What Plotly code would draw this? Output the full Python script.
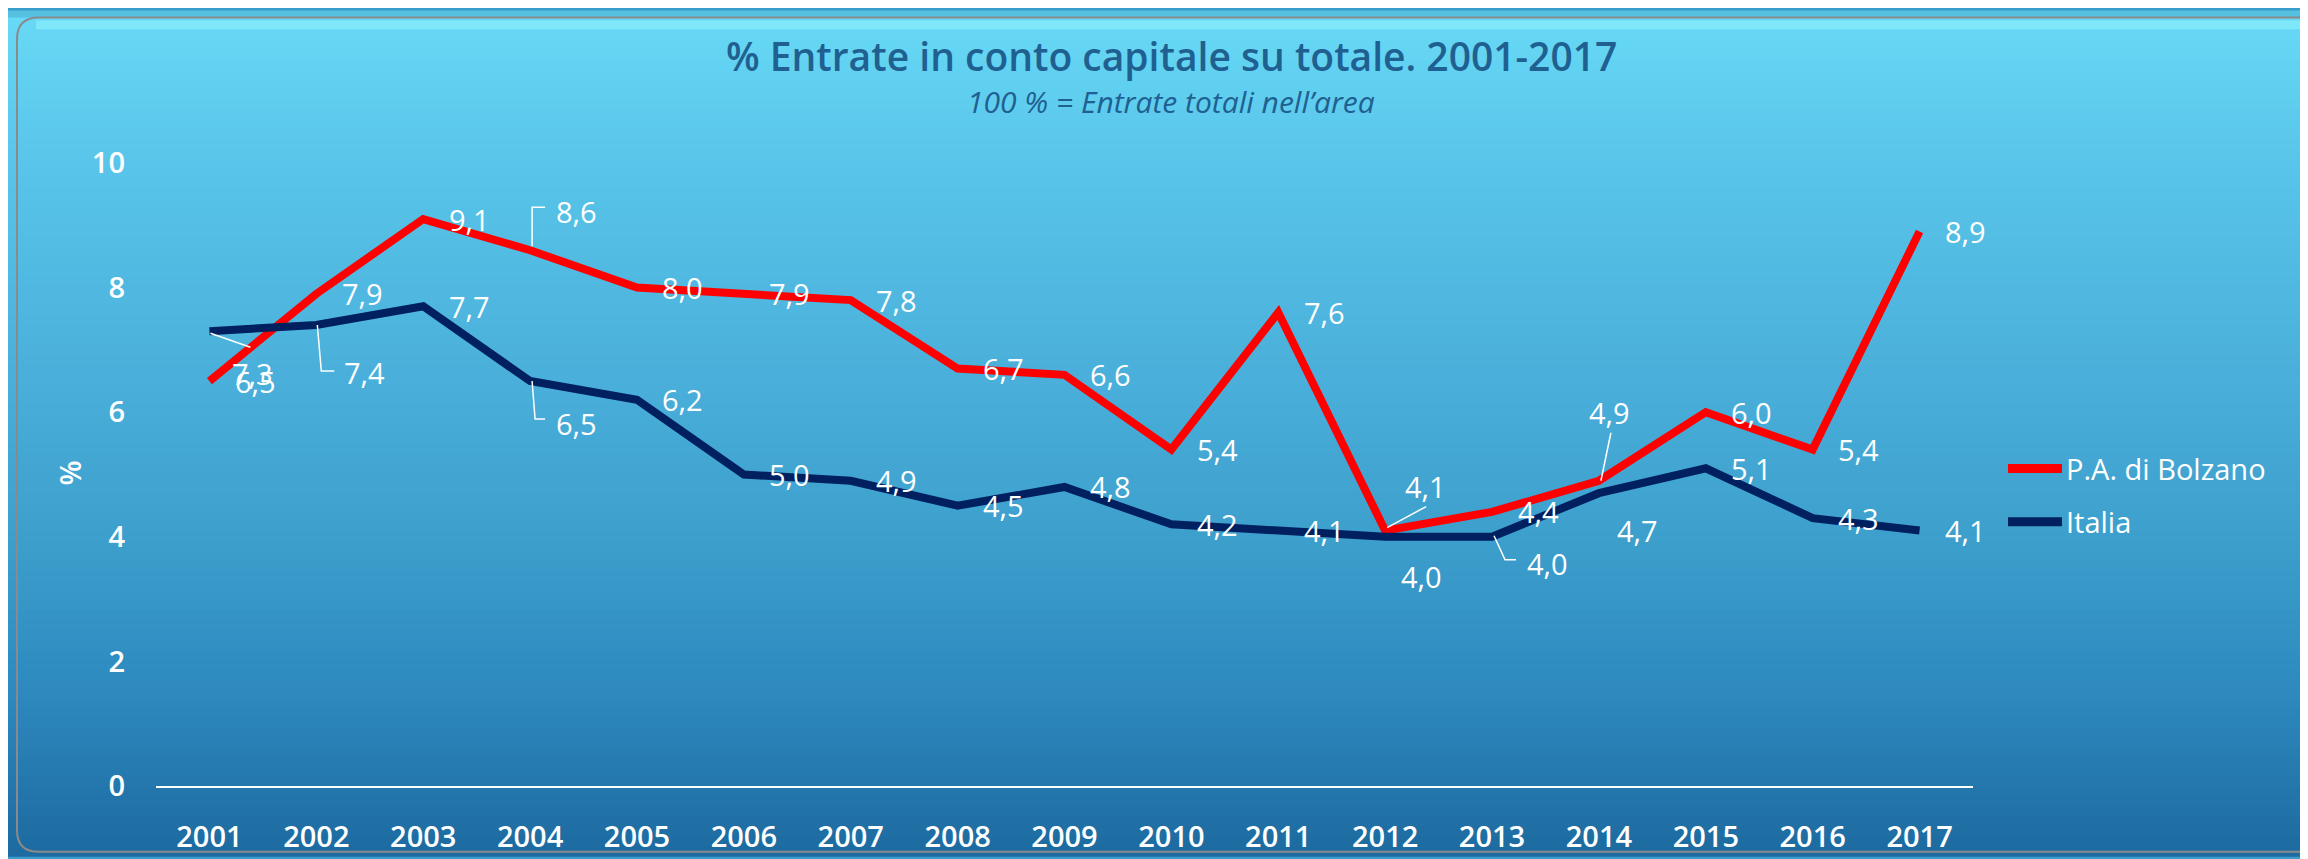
import plotly.graph_objects as go

# % Entrate in conto capitale su totale, 2001-2017

years = list(range(2001, 2018))
bolzano = [6.5, 7.9, 9.1, 8.6, 8.0, 7.9, 7.8, 6.7, 6.6, 5.4, 7.6, 4.1, 4.4, 4.9, 6.0, 5.4, 8.9]
italia = [7.3, 7.4, 7.7, 6.5, 6.2, 5.0, 4.9, 4.5, 4.8, 4.2, 4.1, 4.0, 4.0, 4.7, 5.1, 4.3, 4.1]
y_ticks = [0, 2, 4, 6, 8, 10]
series_names = ['P.A. di Bolzano', 'Italia']
series_colors = ['#ff0000', '#002060']

W, H = 2308, 859
L, R, T, B = 148, 343, 155, 70
FONT = "Open Sans, Lato, sans-serif"


def px(x):
    return (x - L) / (W - L - R)


def py(y):
    return (H - B - y) / (H - T - B)


def hex_to_rgb(h):
    h = h.lstrip('#')
    return tuple(int(h[i:i + 2], 16) for i in (0, 2, 4))


def gradient_color(y, stops):
    for (y0, c0), (y1, c1) in zip(stops[:-1], stops[1:]):
        if y0 <= y <= y1:
            t = (y - y0) / (y1 - y0)
            a, b = hex_to_rgb(c0), hex_to_rgb(c1)
            return 'rgb(%d,%d,%d)' % tuple(round(a[i] + (b[i] - a[i]) * t) for i in range(3))
    return stops[-1][1]


# background gradient of the panel (top to bottom)
bg_stops = [(0, '#68daf6'), (150, '#59c5ea'), (400, '#48add8'),
            (560, '#3b9cca'), (700, '#2c88be'), (859, '#1d6a9f')]

shapes = []
step = 10
for y in range(0, H, step):
    shapes.append(dict(type='rect', xref='paper', yref='paper', layer='below',
                       x0=px(0), x1=px(W), y0=py(y + step + 1), y1=py(y),
                       fillcolor=gradient_color(y + step / 2, bg_stops), line=dict(width=0)))

# strip above the panel and highlight at its top edge
shapes.append(dict(type='rect', xref='paper', yref='paper', layer='below',
                   x0=px(0), x1=px(W), y0=py(7), y1=py(0),
                   fillcolor='#55c0df', line=dict(width=0)))
shapes.append(dict(type='rect', xref='paper', yref='paper', layer='below',
                   x0=px(28), x1=px(W), y0=py(19), y1=py(10),
                   fillcolor='rgba(150,248,255,0.5)', line=dict(width=0)))

# rounded panel border
r = 22
x0b, x1b, y0b, y1b = 9, W + 30, 7, 856
border = (f"M {px(x0b)},{py(y0b + r)} Q {px(x0b)},{py(y0b)} {px(x0b + r)},{py(y0b)} "
          f"L {px(x1b)},{py(y0b)} M {px(x0b)},{py(y0b + r)} L {px(x0b)},{py(y1b - r)} "
          f"Q {px(x0b)},{py(y1b)} {px(x0b + r)},{py(y1b)} L {px(x1b)},{py(y1b)}")
shapes.append(dict(type='path', xref='paper', yref='paper', layer='below',
                   path=border, line=dict(color='#8a8a8a', width=2)))

fig = go.Figure()

for name, vals, color in zip(series_names, [bolzano, italia], series_colors):
    fig.add_trace(go.Scatter(
        x=years, y=vals, mode='lines', name=name,
        line=dict(color=color, width=8), showlegend=False
    ))

# data label offsets in screen px (dx, dy with dy downwards)
default_off = (46, 0)
off_bolzano = {2004: (46, -39), 2012: (40, -44), 2014: (11, -68)}
off_italia = {2001: (43, 42), 2002: (48, 48), 2004: (46, 42), 2012: (36, 40),
              2013: (55, 27), 2014: (39, 37)}

annotations = []
for vals, offs in [(bolzano, off_bolzano), (italia, off_italia)]:
    for yr, v in zip(years, vals):
        dx, dy = offs.get(yr, default_off)
        annotations.append(dict(
            x=yr, y=v, xref='x', yref='y', showarrow=False,
            text=f"{v:.1f}".replace('.', ','), xshift=dx, yshift=-dy,
            font=dict(family=FONT, size=29, color='white')
        ))

# leader lines (pixel paths relative to the data point, y up)
leaders = [
    (2001, italia[0], "M 1,-2 L 41,-16"),
    (2002, italia[1], "M 1,0 L 5,-46 L 18,-46"),
    (2004, bolzano[3], "M 2,4 L 2,43 L 15,43"),
    (2004, italia[3], "M 2,0 L 5,-38 L 15,-38"),
    (2012, bolzano[11], "M 2,3 L 41,24"),
    (2013, italia[12], "M 2,1 L 13,-23 L 24,-23"),
    (2014, bolzano[13], "M 2,0 L 12,48"),
]
for yr, v, path in leaders:
    shapes.append(dict(type='path', xref='x', yref='y', xsizemode='pixel', ysizemode='pixel',
                       xanchor=yr, yanchor=v, path=path, layer='above',
                       line=dict(color='white', width=1.5)))

# legend drawn by hand (longer swatches than plotly's own)
legend_y = [466, 520]
for name, color, ly in zip(series_names, series_colors, legend_y):
    shapes.append(dict(type='line', xref='paper', yref='paper', layer='above',
                       x0=px(2000), x1=px(2054), y0=py(ly), y1=py(ly),
                       line=dict(color=color, width=9)))
    annotations.append(dict(
        x=px(2056), y=py(ly), xref='paper', yref='paper', showarrow=False,
        xanchor='left', yanchor='middle', text=name,
        font=dict(family=FONT, size=29, color='white')
    ))

annotations.append(dict(
    x=px(1163), y=py(92), xref='paper', yref='paper', showarrow=False,
    xanchor='center', yanchor='middle',
    text='<i>100 % = Entrate totali nell’area</i>',
    font=dict(family=FONT, size=30, color='#1f6090')
))
annotations.append(dict(
    x=px(62), y=py(471), xref='paper', yref='paper', showarrow=False,
    xanchor='center', yanchor='middle', text='%', textangle=-90,
    font=dict(family=FONT, size=29, color='white', weight=600)
))
annotations.append(dict(
    x=px(1163), y=py(46), xref='paper', yref='paper', showarrow=False,
    xanchor='center', yanchor='middle',
    text='% Entrate in conto capitale su totale. 2001-2017',
    font=dict(family=FONT, size=39, color='#1f6090', weight=600)
))

fig.update_layout(
    width=W, height=H,
    margin=dict(l=L, r=R, t=T, b=B),
    paper_bgcolor='#3a9ccb',
    plot_bgcolor='rgba(0,0,0,0)',
    xaxis=dict(range=[2000.5, 2017.5], tickvals=years, showgrid=False, zeroline=False,
               showline=True, linecolor='white', linewidth=2, ticklabelstandoff=24,
               tickfont=dict(family=FONT, size=29, color='white', weight=600)),
    yaxis=dict(range=[0, 10], tickvals=y_ticks, showgrid=False, zeroline=False,
               showline=False, ticklabelstandoff=30,
               tickfont=dict(family=FONT, size=29, color='white', weight=600)),
    shapes=shapes,
    annotations=annotations,
    showlegend=False,
)

fig.write_html("out.html")
